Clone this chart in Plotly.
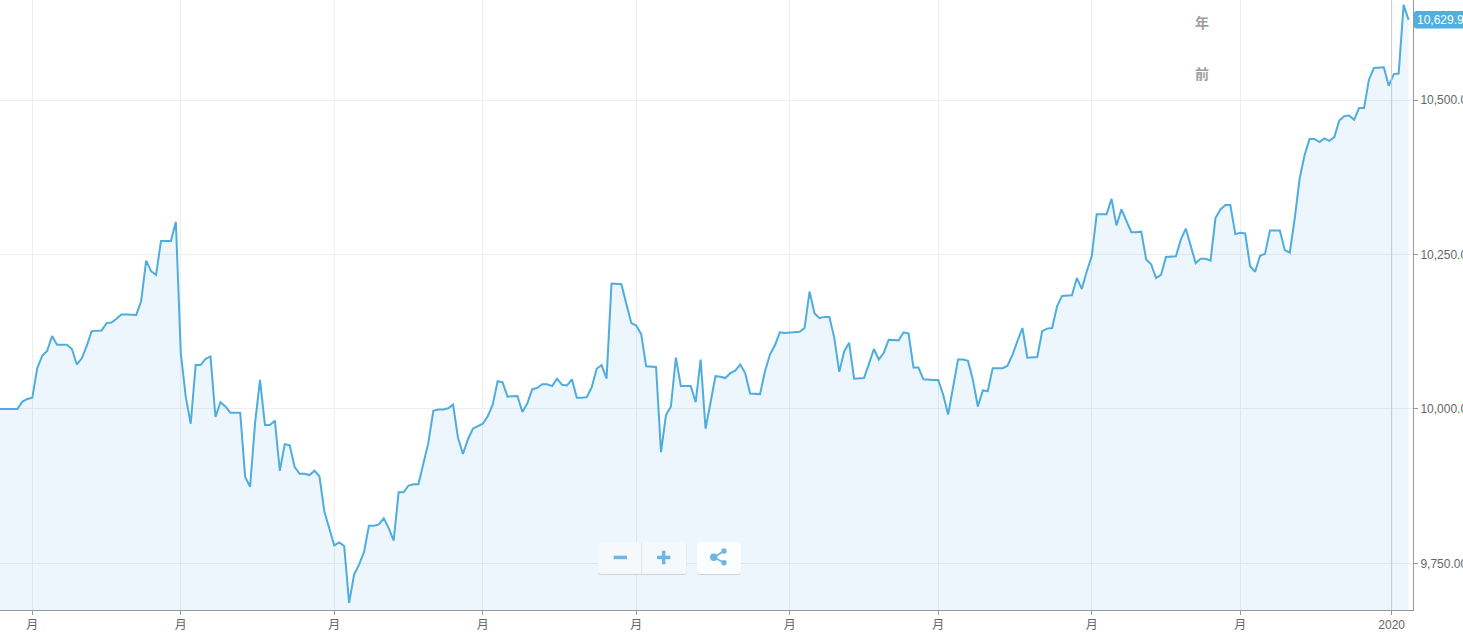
import pandas as pd
import plotly.graph_objects as go

# Daily index values, one list per calendar month
mar_2019 = [10000, 10000, 10000, 10000, 10000, 10012, 10016]
apr_2019 = [10018, 10066, 10086, 10094, 10118, 10104, 10104, 10104, 10097, 10072,
            10082, 10102, 10126, 10126, 10127, 10139, 10140, 10146, 10153, 10153,
            10153, 10152, 10175, 10240, 10223, 10217, 10272, 10272, 10272, 10303]
may_2019 = [10090, 10020, 9976, 10071, 10071, 10081, 10085, 9987, 10011, 10004,
            9994, 9994, 9994, 9890, 9874, 9977, 10047, 9974, 9974, 9981,
            9900, 9943, 9941, 9906, 9895, 9895, 9893, 9900, 9891, 9834, 9807]
jun_2019 = [9779, 9784, 9778, 9686, 9732, 9748, 9768, 9811, 9811, 9813,
            9823, 9807, 9787, 9865, 9865, 9876, 9878, 9878, 9913, 9945,
            9997, 9999, 9999, 10001, 10007, 9953, 9927, 9951, 9968, 9972]
jul_2019 = [9976, 9988, 10007, 10045, 10043, 10020, 10020, 10021, 9995, 10009,
            10032, 10034, 10040, 10040, 10037, 10049, 10039, 10038, 10048, 10018,
            10018, 10019, 10035, 10065, 10071, 10049, 10203, 10203, 10202, 10170, 10139]
aug_2019 = [10135, 10121, 10069, 10069, 10068, 9930, 9990, 10004, 10083, 10037,
            10037, 10037, 10011, 10080, 9968, 10012, 10053, 10052, 10050, 10058,
            10062, 10072, 10058, 10025, 10025, 10024, 10061, 10088, 10103, 10124, 10123]
sep_2019 = [10124, 10124, 10125, 10131, 10190, 10155, 10147, 10149, 10149, 10115,
            10060, 10093, 10107, 10049, 10050, 10050, 10073, 10097, 10080, 10091,
            10112, 10112, 10111, 10124, 10122, 10067, 10067, 10048, 10047, 10047]
oct_2019 = [10047, 10023, 9991, 10039, 10080, 10080, 10078, 10047, 10004, 10030,
            10029, 10066, 10066, 10066, 10070, 10088, 10110, 10131, 10083, 10083,
            10084, 10126, 10130, 10131, 10166, 10183, 10183, 10184, 10212, 10194, 10223]
nov_2019 = [10247, 10315, 10315, 10315, 10340, 10297, 10323, 10304, 10286, 10286,
            10287, 10242, 10234, 10212, 10217, 10246, 10246, 10247, 10274, 10292,
            10264, 10236, 10243, 10243, 10240, 10309, 10323, 10330, 10330, 10283]
dec_2019 = [10285, 10284, 10231, 10222, 10248, 10251, 10289, 10289, 10289, 10257,
            10253, 10308, 10373, 10411, 10437, 10437, 10432, 10438, 10434, 10440,
            10467, 10474, 10475, 10468, 10487, 10487, 10533, 10552, 10553, 10553, 10523]
jan_2020 = [10542, 10543, 10654, 10629.9]

values = (mar_2019 + apr_2019 + may_2019 + jun_2019 + jul_2019 + aug_2019
          + sep_2019 + oct_2019 + nov_2019 + dec_2019 + jan_2020)
dates = pd.date_range("2019-03-25", periods=len(values), freq="D")

x_tick_dates = ["2019-04-01", "2019-05-01", "2019-06-01", "2019-07-01", "2019-08-01",
                "2019-09-01", "2019-10-01", "2019-11-01", "2019-12-01", "2019-12-31 14:00"]
x_tick_labels = ["月", "月", "月", "月", "月", "月", "月", "月", "月", "2020"]
y_ticks = [9750, 10000, 10250, 10500]
last_label = "10,629.90"
range_labels = ["年", "前"]

W, H = 1463, 634
PLOT_W, PLOT_H = 1413, 610
BLUE = "#4fadde"
ICON = "#6db6e6"


def px(x):
    return x / PLOT_W


def py(y):
    return (PLOT_H - y) / PLOT_H


def rounded(x0, y0, x1, y1, r, fill, line=None):
    p = (f"M{px(x0 + r)},{py(y0)} L{px(x1 - r)},{py(y0)} "
         f"Q{px(x1)},{py(y0)} {px(x1)},{py(y0 + r)} L{px(x1)},{py(y1 - r)} "
         f"Q{px(x1)},{py(y1)} {px(x1 - r)},{py(y1)} L{px(x0 + r)},{py(y1)} "
         f"Q{px(x0)},{py(y1)} {px(x0)},{py(y1 - r)} L{px(x0)},{py(y0 + r)} "
         f"Q{px(x0)},{py(y0)} {px(x0 + r)},{py(y0)} Z")
    return dict(type="path", xref="paper", yref="paper", path=p, fillcolor=fill,
                line=dict(width=0 if line is None else 1, color=line or fill))


def rect(x0, y0, x1, y1, fill):
    return dict(type="rect", xref="paper", yref="paper", x0=px(x0), x1=px(x1),
                y0=py(y0), y1=py(y1), fillcolor=fill, line=dict(width=0))


def circle(cx, cy, r, fill):
    return dict(type="circle", xref="paper", yref="paper", x0=px(cx - r), x1=px(cx + r),
                y0=py(cy - r), y1=py(cy + r), fillcolor=fill, line=dict(width=0))


def seg(x0, y0, x1, y1, color, width):
    return dict(type="line", xref="paper", yref="paper", x0=px(x0), x1=px(x1),
                y0=py(y0), y1=py(y1), line=dict(color=color, width=width))


fig = go.Figure(go.Scatter(
    x=dates, y=values, mode="lines", line=dict(color=BLUE, width=2),
    fill="tozeroy", fillcolor="rgba(0,125,225,0.07)", hoverinfo="skip",
))

shapes = [
    # marker line at the year boundary
    dict(type="line", xref="x", yref="paper", x0=x_tick_dates[-1], x1=x_tick_dates[-1],
         y0=0, y1=1, line=dict(color="#c3c9ce", width=1)),
    # last value flag
    rounded(1414, 11, 1475, 28.5, 2.5, "#4fb0e0"),
    # zoom buttons
    rounded(598, 543, 686.5, 575, 3, "rgba(170,185,195,0.55)"),
    rounded(598, 542, 686.5, 574, 3, "#f5f9fb"),
    rect(641.3, 542, 642.2, 574, "#dfe3e5"),
    rect(613.7, 555.7, 627, 559.2, ICON),
    rect(657, 555.7, 670.3, 559.2, ICON),
    rect(661.9, 550.7, 665.4, 564.2, ICON),
    # share button
    rounded(697, 543, 741, 575, 3, "rgba(170,185,195,0.55)"),
    rounded(697, 542, 741, 574, 3, "#fbfdfe"),
    seg(713.7, 557.3, 724, 551, ICON, 1.6),
    seg(713.7, 557.3, 724, 562.7, ICON, 1.6),
    circle(713.7, 557.3, 3.7, ICON),
    circle(724, 551, 2.7, ICON),
    circle(724, 562.7, 2.7, ICON),
]

annotations = [
    dict(xref="paper", yref="paper", x=px(1414.5), y=py(20), xanchor="left", yanchor="middle",
         text=last_label, showarrow=False, align="left",
         font=dict(color="#ffffff", size=12, family="Liberation Sans")),
    dict(xref="paper", yref="paper", x=px(1202), y=py(22), xanchor="center", yanchor="middle",
         text=f"<b>{range_labels[0]}</b>", showarrow=False,
         font=dict(color="#a0a0a0", size=14, family="Noto Sans CJK SC")),
    dict(xref="paper", yref="paper", x=px(1202), y=py(73), xanchor="center", yanchor="middle",
         text=f"<b>{range_labels[1]}</b>", showarrow=False,
         font=dict(color="#a0a0a0", size=14, family="Noto Sans CJK SC")),
]

fig.update_layout(
    width=W, height=H, autosize=False,
    margin=dict(l=0, r=W - PLOT_W, t=0, b=H - PLOT_H, pad=0, autoexpand=False),
    paper_bgcolor="#ffffff", plot_bgcolor="#ffffff",
    showlegend=False, hovermode=False,
    shapes=shapes, annotations=annotations,
    xaxis=dict(
        type="date", automargin=False,
        range=["2019-03-25 11:30", "2020-01-04 21:30"],
        tickmode="array", tickvals=x_tick_dates, ticktext=x_tick_labels,
        ticks="outside", ticklen=4, tickcolor="#999999", tickwidth=1,
        showgrid=True, gridcolor="#eeeeee", gridwidth=1,
        showline=True, linecolor="#999999", linewidth=1, zeroline=False,
        tickangle=0,
        tickfont=dict(size=12, color="#666666", family="Liberation Sans, Noto Sans CJK SC"),
    ),
    yaxis=dict(
        side="right", automargin=False,
        range=[9674.5, 10662],
        tickmode="array", tickvals=y_ticks, tickformat=",.2f",
        ticks="outside", ticklen=4, tickcolor="#999999", tickwidth=1,
        showgrid=True, gridcolor="#eeeeee", gridwidth=1,
        showline=True, linecolor="#999999", linewidth=1, zeroline=False,
        tickfont=dict(size=12, color="#666666", family="Liberation Sans"),
    ),
)

fig.write_html(
    "out.html",
    config=dict(displayModeBar=False, responsive=False),
    post_script="document.body.style.margin='0';document.body.style.overflow='hidden';",
)
